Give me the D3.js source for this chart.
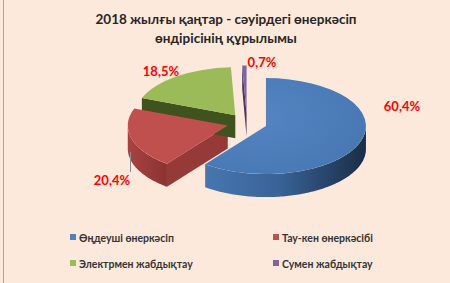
<!DOCTYPE html>
<html>
<head>
<meta charset="utf-8">
<script src="https://cdn.jsdelivr.net/npm/d3@7"></script>
<style>
  body { margin: 0; background: #fde9dc; }
  svg { display: block; font-family: Lato, "Open Sans", sans-serif; }
</style>
</head>
<body>
<div id="chart"></div>
<script>
// data
const categories = ["Өңдеуші өнеркәсіп", "Тау-кен өнеркәсібі", "Электрмен жабдықтау", "Сумен жабдықтау"];
const values = [60.4, 20.4, 18.5, 0.7];
const valueLabels = ["60,4%", "20,4%", "18,5%", "0,7%"];
const titleLines = ["2018 жылғы қаңтар - сәуірдегі өнеркәсіп", "өндірісінің құрылымы"];

const topColors = ["#4f81bd", "#c0504d", "#9bbb59", "#8064a2"];
const sideColors = ["#2f5280", "#8a3533", "#46591f", "#4f3b6b"];
const faceColors = ["#35598a", "#963a38", "#40521d", "#4a3766"];

var width = 450
var height = 283

var cx = 247, cy = 123
var rx = 100, ry = 48
var depth = 23
var explode = 20
var k = ry / rx

var svg = d3.select("#chart")
  .append("svg")
    .attr("width", width)
    .attr("height", height)

// background + left border line
svg.append("rect").attr("width", width).attr("height", height).attr("fill", "#fde9dc")
svg.append("line").attr("x1", 3.5).attr("x2", 3.5).attr("y1", 0).attr("y2", height)
  .attr("stroke", "#a6a6a6").attr("stroke-width", 1)

var defs = svg.append("defs")
var gBlue = defs.append("linearGradient").attr("id", "blueSide")
  .attr("x1", "0%").attr("x2", "100%").attr("y1", "0%").attr("y2", "0%")
gBlue.append("stop").attr("offset", "0%").attr("stop-color", "#4776b0")
gBlue.append("stop").attr("offset", "45%").attr("stop-color", "#3a6398")
gBlue.append("stop").attr("offset", "100%").attr("stop-color", "#1a2d47")
var gRed = defs.append("linearGradient").attr("id", "redSide")
  .attr("x1", "0%").attr("x2", "100%").attr("y1", "0%").attr("y2", "0%")
gRed.append("stop").attr("offset", "0%").attr("stop-color", "#a94341")
gRed.append("stop").attr("offset", "100%").attr("stop-color", "#8a3331")
var gBlueTop = defs.append("radialGradient").attr("id", "blueTop")
  .attr("cx", "35%").attr("cy", "40%").attr("r", "75%")
gBlueTop.append("stop").attr("offset", "0%").attr("stop-color", "#5485c2")
gBlueTop.append("stop").attr("offset", "100%").attr("stop-color", "#4677b3")

var sideFill = ["url(#blueSide)", "url(#redSide)", sideColors[2], sideColors[3]]
var topFill = ["url(#blueTop)", topColors[1], topColors[2], topColors[3]]

// title
svg.append("g").selectAll("text")
  .data(titleLines)
  .enter()
  .append("text")
  .attr("x", 226)
  .attr("y", (d, i) => 24 + i * 19)
  .attr("text-anchor", "middle")
  .attr("font-size", "13.5px")
  .attr("font-weight", "bold")
  .attr("fill", "#262626")
  .text(d => d)

var pie = d3.pie().sort(null).value(d => d)
var arcs = pie(values)

var topArc = d3.arc().innerRadius(0).outerRadius(rx)
var line = d3.line()

// slice offsets along the bisector
arcs.forEach(function(d, i) {
  var mid = (d.startAngle + d.endAngle) / 2
  d.ox = explode * Math.sin(mid)
  d.oy = -explode * Math.cos(mid)   // in unscaled (circle) units
  d.i = i
})

var pie3d = svg.append("g")

function sliceGroup(d) {
  return "translate(" + (cx + d.ox) + "," + (cy + d.oy * k) + ") scale(1," + k + ")"
}

var dz = depth / k

// side faces first
arcs.forEach(function(d) {
  var g = pie3d.append("g").attr("transform", sliceGroup(d))
  // start radial face (visible when it looks to the front)
  if (Math.sin(d.startAngle) < -0.01) {
    var a = d.startAngle
    var px = rx * Math.sin(a), py = -rx * Math.cos(a)
    g.append("path")
      .attr("d", line([[0, 0], [px, py], [px, py + dz], [0, dz]]) + "Z")
      .attr("fill", faceColors[d.i])
  }
  // outer rim, front half only
  var a0 = Math.max(d.startAngle, Math.PI / 2)
  var a1 = Math.min(d.endAngle, 3 * Math.PI / 2)
  if (a1 > a0) {
    var angles = d3.range(a0, a1, 0.02).concat([a1])
    var topPts = angles.map(a => [rx * Math.sin(a), -rx * Math.cos(a)])
    var botPts = topPts.map(p => [p[0], p[1] + dz]).reverse()
    g.append("path")
      .attr("d", line(topPts.concat(botPts)) + "Z")
      .attr("fill", sideFill[d.i])
  }
})

// top faces
arcs.forEach(function(d) {
  pie3d.append("g").attr("transform", sliceGroup(d))
    .append("path")
    .attr("d", topArc(d))
    .attr("fill", topFill[d.i])
})

// leader line for 20,4%
svg.append("line")
  .attr("x1", 130.5).attr("x2", 130.5).attr("y1", 152).attr("y2", 172)
  .attr("stroke", "#8c8c8c").attr("stroke-width", 1)

// value labels
var labelPos = [[402, 111], [112, 185], [161, 76], [262, 67]]
svg.append("g").selectAll("text")
  .data(valueLabels)
  .enter()
  .append("text")
  .attr("x", (d, i) => labelPos[i][0])
  .attr("y", (d, i) => labelPos[i][1])
  .attr("text-anchor", "middle")
  .attr("font-size", "13px")
  .attr("font-weight", "bold")
  .attr("fill", "#ff0000")
  .text(d => d)

// legend
var legendX = [70, 273], legendY = [238, 264]
var legend = svg.append("g").selectAll("g")
  .data(categories)
  .enter()
  .append("g")
  .attr("transform", (d, i) => "translate(" + legendX[i % 2] + "," + legendY[Math.floor(i / 2)] + ")")

legend.append("rect")
  .attr("x", 0).attr("y", -4).attr("width", 6).attr("height", 6)
  .attr("fill", (d, i) => topColors[i])

legend.append("text")
  .attr("x", 9).attr("y", 3.5)
  .attr("font-size", "10.5px")
  .attr("font-weight", "bold")
  .attr("fill", "#333333")
  .text(d => d)
</script>
</body>
</html>
